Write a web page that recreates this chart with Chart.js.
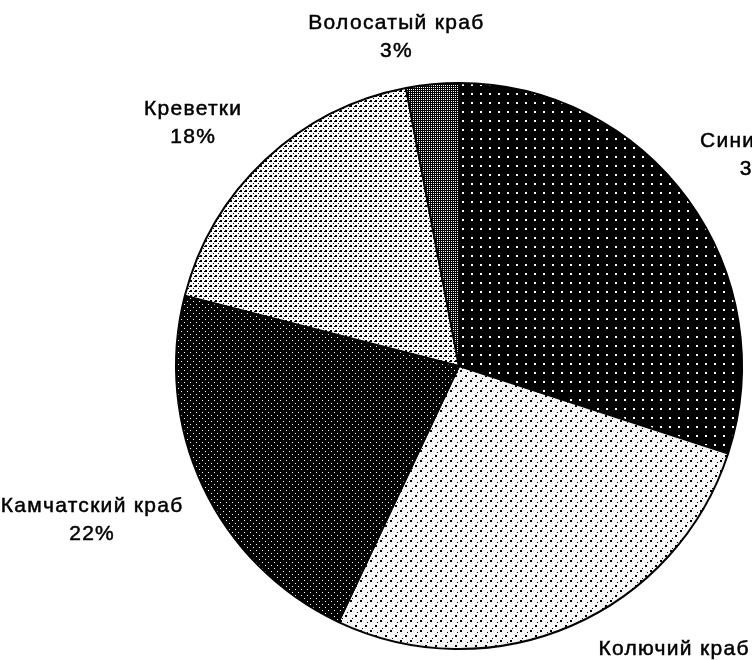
<!DOCTYPE html>
<html lang="ru">
<head>
<meta charset="utf-8">
<title>Структура уловов</title>
<script src="https://cdn.jsdelivr.net/npm/chart.js@4.4.1/dist/chart.umd.min.js"></script>
<style>
  html, body { margin: 0; padding: 0; background: #fff; }
  #wrap { width: 752px; height: 660px; }
</style>
</head>
<body>
<div id="wrap"><canvas id="pie" width="752" height="660"></canvas></div>
<script>
// доли видов в улове, %
const categories = ['Синий краб', 'Колючий краб', 'Камчатский краб', 'Креветки', 'Волосатый краб'];
const shares = [30, 27, 22, 18, 3];

// сдвиг подписей относительно точки на биссектрисе сектора
const labelShift = [[6, 5], [69, -40], [-34, -2], [-14, 25], [-28, 37]];

// штриховки в духе чёрно-белой печати
function tile(w, h, bg, fg, dots) {
  const c = document.createElement('canvas');
  c.width = w; c.height = h;
  const g = c.getContext('2d');
  g.fillStyle = bg;
  g.fillRect(0, 0, w, h);
  g.fillStyle = fg;
  dots.forEach(([x, y, s]) => g.fillRect(x, y, s || 1, s || 1));
  return g.createPattern(c, 'repeat');
}

const ctx = document.getElementById('pie').getContext('2d');

const fills = [
  tile(9, 9, '#000', '#fff', [[3, 3, 2]]),                                  // синий
  tile(10, 10, '#f4f4f4', '#000', [[0, 0, 2], [5, 5, 2], [7, 2], [2, 8]]),  // колючий
  tile(6, 6, '#000', '#fff', [[1, 1, 1], [4, 4, 1]]),                       // камчатский
  tile(5, 5, '#fff', '#000', [[0, 0, 2], [3, 3], [4, 1]]),                  // креветки
  tile(2, 2, '#000', '#fff', [[1, 1]])                                      // волосатый
];

const labelsPlugin = {
  id: 'outerLabels',
  afterDraw(chart) {
    const c = chart.ctx;
    const arcs = chart.getDatasetMeta(0).data;
    c.save();
    c.font = '21px "Liberation Sans", Arial, sans-serif';
    c.letterSpacing = '1.3px';
    c.fillStyle = '#000';
    c.strokeStyle = '#000';
    c.lineWidth = 0.5;
    c.textAlign = 'center';
    c.textBaseline = 'middle';
    arcs.forEach((arc, i) => {
      const a = (arc.startAngle + arc.endAngle) / 2;
      const d = arc.outerRadius * 1.3;
      const x = arc.x + Math.cos(a) * d + labelShift[i][0];
      const y = arc.y + Math.sin(a) * d + labelShift[i][1];
      const lines = [categories[i], shares[i] + '%'];
      lines.forEach((t, k) => {
        c.fillText(t, x, y - 14 + k * 28);
        c.strokeText(t, x, y - 14 + k * 28);
      });
    });
    c.restore();
  }
};

new Chart(ctx, {
  type: 'pie',
  data: {
    labels: categories,
    datasets: [{
      data: shares,
      backgroundColor: fills,
      borderColor: '#000',
      borderWidth: 2,
      borderAlign: 'center'
    }]
  },
  options: {
    responsive: false,
    animation: false,
    layout: { padding: { left: 175, top: 82, right: 9, bottom: 10 } },
    plugins: {
      legend: { display: false },
      tooltip: { enabled: false }
    }
  },
  plugins: [labelsPlugin]
});
</script>
</body>
</html>
